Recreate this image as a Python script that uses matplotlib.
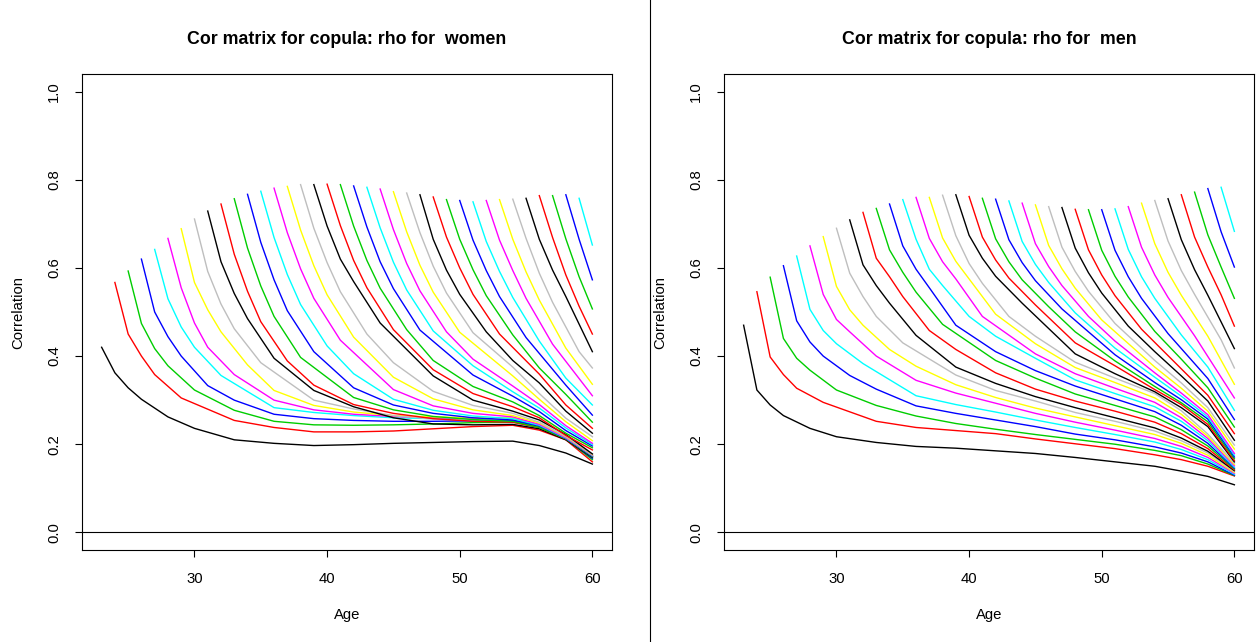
import matplotlib
matplotlib.use("Agg")
import matplotlib.pyplot as plt
from matplotlib.lines import Line2D

plt.rcParams['font.family'] = ['Liberation Sans', 'DejaVu Sans']

# curve i starts at start_ages[i] and runs up to age 60
start_ages = list(range(23, 60))
step_offsets = [0, 1, 2, 3, 5]
coarse_ages = [30, 33, 36, 39, 42, 45, 48, 51, 54, 56, 58, 60]

# R's default palette, cycled over the curves
palette = ['black', '#FF0000', '#00CD00', '#0000FF', '#00FFFF', '#FF00FF', '#FFFF00', '#BEBEBE']

rho_women = [
    [.42, .362, .328, .302, .262, .236, .21, .202, .197, .199, .202, .204, .206, .207, .197, .18, .155],
    [.567, .45, .40, .358, .305, .254, .238, .228, .228, .23, .235, .24, .243, .232, .21, .16],
    [.593, .474, .417, .378, .323, .277, .252, .244, .243, .244, .246, .249, .25, .238, .212, .165],
    [.62, .50, .444, .40, .333, .30, .268, .258, .254, .252, .252, .253, .254, .24, .212, .168],
    [.642, .53, .466, .42, .356, .283, .272, .265, .26, .258, .257, .257, .243, .214, .17],
    [.667, .555, .475, .42, .358, .30, .278, .268, .263, .26, .259, .258, .244, .215, .172],
    [.689, .567, .505, .455, .38, .322, .288, .273, .265, .262, .26, .26, .245, .216, .173],
    [.711, .592, .518, .462, .385, .30, .28, .265, .257, .255, .256, .244, .216, .174],
    [.729, .614, .542, .485, .395, .322, .285, .26, .246, .244, .245, .235, .21, .17],
    [.745, .631, .547, .478, .389, .334, .29, .27, .258, .252, .25, .238, .212, .172],
    [.757, .645, .559, .49, .397, .306, .278, .263, .256, .252, .238, .212, .172],
    [.767, .658, .573, .503, .41, .328, .289, .27, .26, .255, .242, .213, .173],
    [.774, .669, .585, .517, .423, .36, .302, .277, .264, .258, .243, .214, .174],
    [.781, .68, .598, .531, .436, .324, .287, .27, .262, .245, .215, .175],
    [.785, .686, .605, .539, .443, .352, .303, .278, .265, .248, .217, .176],
    [.789, .69, .612, .546, .45, .385, .32, .288, .27, .25, .218, .177],
    [.789, .695, .62, .569, .475, .355, .30, .275, .255, .222, .178],
    [.79, .696, .617, .555, .46, .369, .315, .285, .26, .22, .187],
    [.789, .695, .617, .554, .46, .39, .331, .296, .265, .225, .192],
    [.786, .693, .614, .553, .459, .357, .309, .274, .231, .196],
    [.783, .691, .613, .55, .457, .378, .319, .282, .237, .199],
    [.779, .687, .61, .548, .455, .393, .332, .29, .242, .202],
    [.773, .682, .606, .545, .454, .355, .302, .251, .208],
    [.77, .68, .604, .543, .453, .375, .315, .259, .217],
    [.766, .665, .595, .54, .455, .39, .339, .275, .225],
    [.761, .67, .60, .54, .45, .359, .289, .236],
    [.755, .665, .596, .537, .448, .373, .313, .25],
    [.753, .663, .594, .535, .442, .334, .266],
    [.75, .66, .592, .533, .434, .35, .289],
    [.753, .663, .594, .531, .427, .31],
    [.755, .665, .591, .527, .418, .336],
    [.756, .667, .588, .522, .41, .373],
    [.758, .665, .595, .535, .41],
    [.764, .669, .584, .513, .45],
    [.764, .666, .58, .507],
    [.766, .665, .573],
    [.758, .652],
]

rho_men = [
    [.47, .323, .289, .265, .236, .217, .204, .195, .191, .185, .179, .17, .16, .15, .139, .127, .108],
    [.546, .398, .358, .327, .295, .252, .238, .231, .224, .212, .201, .19, .176, .165, .15, .128],
    [.579, .44, .395, .368, .323, .288, .264, .247, .234, .222, .211, .2, .186, .174, .155, .129],
    [.605, .48, .432, .40, .356, .325, .287, .27, .255, .24, .223, .21, .194, .18, .16, .13],
    [.627, .506, .458, .428, .383, .31, .29, .273, .255, .238, .222, .205, .188, .165, .132],
    [.65, .54, .483, .455, .40, .345, .316, .293, .27, .25, .232, .213, .195, .17, .134],
    [.671, .558, .505, .47, .415, .377, .335, .306, .282, .262, .242, .222, .202, .175, .136],
    [.69, .588, .535, .49, .43, .357, .322, .298, .272, .252, .23, .208, .18, .138],
    [.709, .607, .56, .52, .447, .375, .338, .308, .283, .26, .237, .214, .184, .14],
    [.726, .622, .58, .535, .458, .415, .362, .325, .298, .275, .25, .224, .19, .142],
    [.735, .641, .59, .545, .472, .39, .35, .314, .288, .262, .233, .196, .144],
    [.745, .65, .597, .555, .47, .41, .367, .332, .303, .274, .243, .202, .146],
    [.755, .665, .597, .56, .49, .445, .395, .346, .315, .285, .252, .208, .148],
    [.76, .667, .614, .575, .49, .405, .36, .327, .295, .26, .213, .151],
    [.76, .668, .615, .575, .495, .428, .374, .34, .305, .268, .218, .154],
    [.765, .673, .61, .565, .49, .445, .386, .35, .315, .276, .223, .157],
    [.766, .674, .622, .581, .52, .405, .36, .319, .283, .24, .16],
    [.762, .67, .618, .577, .516, .43, .378, .324, .29, .245, .163],
    [.758, .666, .614, .573, .512, .455, .389, .331, .294, .251, .167],
    [.756, .664, .612, .571, .507, .403, .34, .301, .257, .171],
    [.752, .66, .608, .567, .498, .418, .352, .309, .262, .175],
    [.747, .655, .603, .56, .49, .434, .362, .316, .267, .179],
    [.743, .651, .598, .554, .482, .375, .327, .275, .189],
    [.739, .647, .592, .547, .474, .39, .339, .283, .198],
    [.737, .645, .589, .543, .468, .41, .355, .298, .209],
    [.733, .641, .584, .537, .461, .371, .311, .224],
    [.732, .64, .581, .534, .456, .393, .328, .239],
    [.732, .64, .58, .531, .451, .349, .256],
    [.734, .642, .58, .531, .448, .375, .277],
    [.739, .647, .584, .533, .446, .305],
    [.747, .655, .59, .538, .445, .336],
    [.753, .661, .594, .54, .437, .373],
    [.757, .664, .596, .538, .417],
    [.766, .67, .602, .539, .468],
    [.772, .675, .602, .531],
    [.78, .682, .602],
    [.783, .683],
]

x_ticks = [30, 40, 50, 60]
y_ticks = [0.0, 0.2, 0.4, 0.6, 0.8, 1.0]
y_tick_labels = ['0.0', '0.2', '0.4', '0.6', '0.8', '1.0']


def knot_ages(s):
    near = [s + k for k in step_offsets if s + k <= 60]
    far = [a for a in coarse_ages if a >= s + 7]
    return sorted(set(near + far + [60]))


W, H = 1257, 642
fig = plt.figure(figsize=(W / 100, H / 100), dpi=100)


def draw_panel(left_px, rho, who):
    ax = fig.add_axes([left_px / W, (H - 550) / H, 530 / W, 476 / H])
    for i, (s, vals) in enumerate(zip(start_ages, rho)):
        ax.plot(knot_ages(s), vals, color=palette[i % 8], lw=1.0)
    ax.axhline(0, color='black', lw=0.8)
    ax.set_xlim(21.52, 61.48)
    ax.set_ylim(-0.04, 1.04)
    ax.set_xticks(x_ticks)
    ax.set_xticklabels([str(t) for t in x_ticks])
    ax.set_yticks(y_ticks)
    ax.set_yticklabels(y_tick_labels, rotation=90, va='center')
    ax.tick_params(length=5, width=0.8, labelsize=10.7)
    ax.tick_params(axis='x', pad=11)
    ax.tick_params(axis='y', pad=10)
    for sp in ax.spines.values():
        sp.set_linewidth(0.8)
    cx = (left_px + 265) / W
    fig.text(cx, 1 - 40 / H, 'Cor matrix for copula: rho for  ' + who,
             ha='center', va='center', fontsize=12.8, fontweight='bold')
    fig.text(cx, 1 - 615 / H, 'Age', ha='center', va='center', fontsize=10.7)
    fig.text((left_px - 64) / W, 1 - 312 / H, 'Correlation', ha='center',
             va='center', rotation=90, fontsize=10.7)
    return ax


draw_panel(82, rho_women, 'women')
draw_panel(724, rho_men, 'men')

# divider between the two panels
fig.add_artist(Line2D([650 / W, 650 / W], [0, 1], color='black', lw=0.8))

fig.savefig('out.png', dpi=100)
